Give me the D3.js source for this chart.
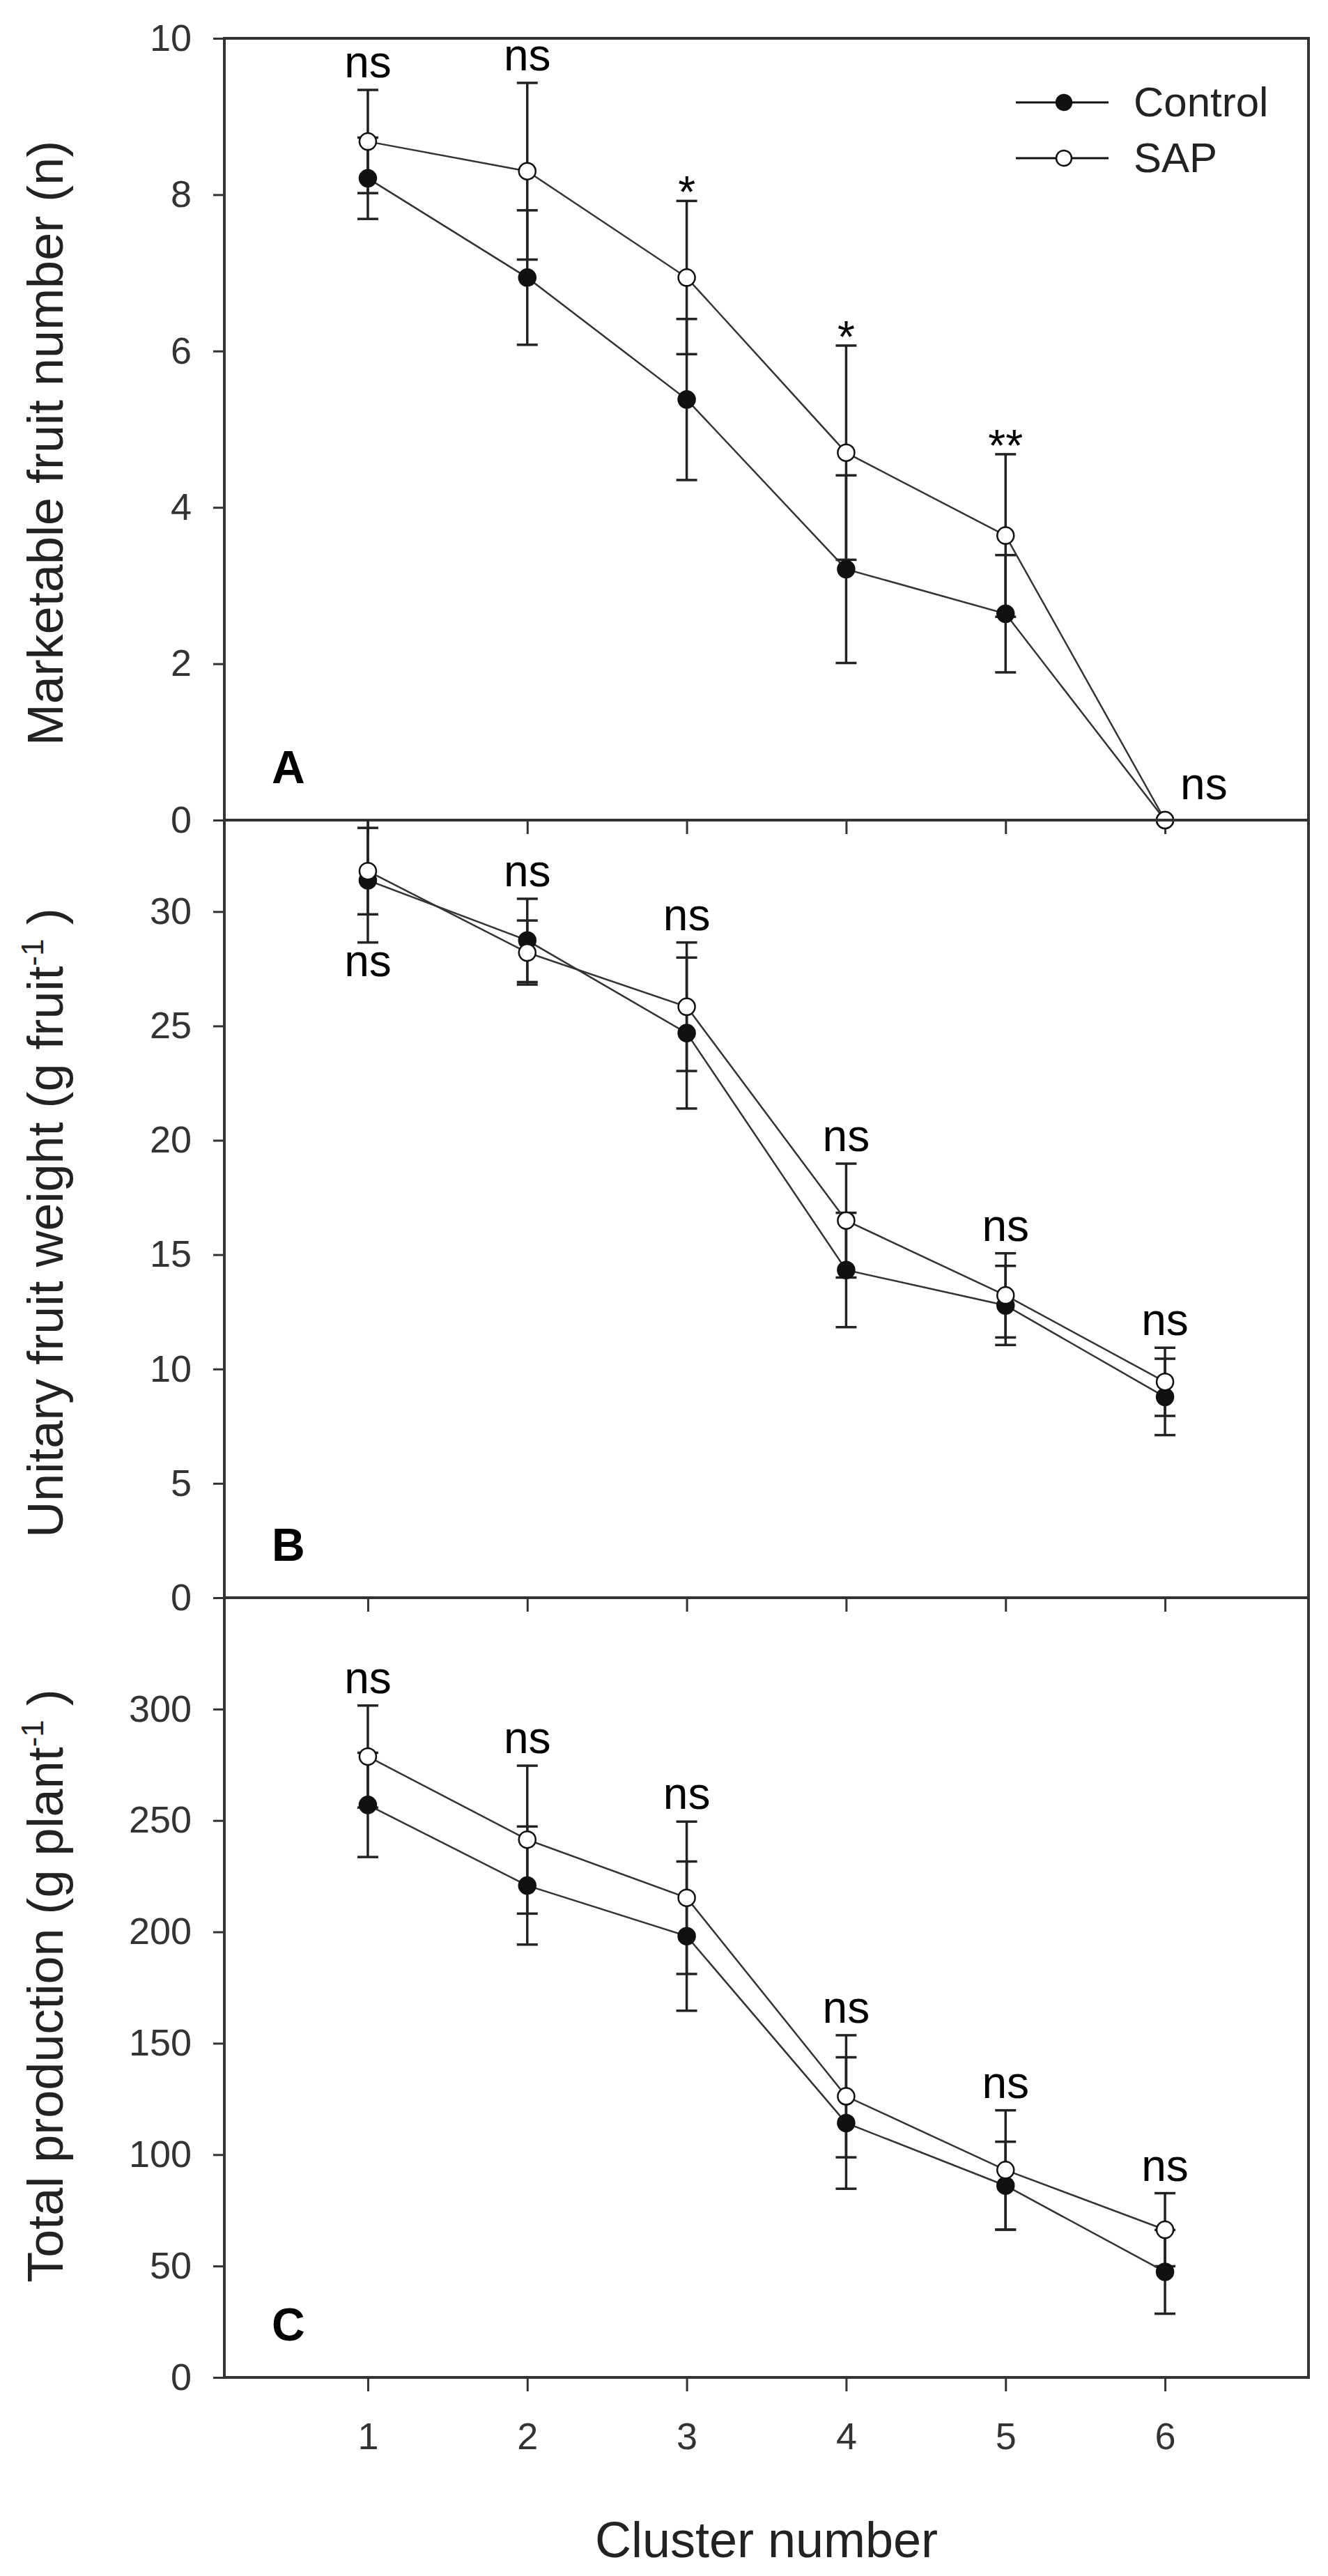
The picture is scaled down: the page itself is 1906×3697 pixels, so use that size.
<!DOCTYPE html>
<html>
<head>
<meta charset="utf-8">
<script src="https://cdn.jsdelivr.net/npm/d3@7/dist/d3.min.js"></script>
<style>
  html, body { margin: 0; padding: 0; background: #fff; }
  svg { display: block; }
  text { font-family: "Liberation Sans", Arial, sans-serif; }
</style>
</head>
<body>
<script>
// cluster numbers on the x axis
const clusters = [1, 2, 3, 4, 5, 6];

// A : marketable fruit number (n)
const controlA    = [8.21, 6.94, 5.38, 3.21, 2.64, 0];
const controlAErr = [0.52, 0.86, 1.03, 1.20, 0.75, 0];
const sapA        = [8.68, 8.30, 6.94, 4.70, 3.64, 0];
const sapAErr     = [0.66, 1.13, 0.98, 1.37, 1.04, 0];
const sigA        = ['ns', 'ns', '*', '*', '**', 'ns'];
const ticksA      = [0, 2, 4, 6, 8, 10];

// B : unitary fruit weight (g fruit-1)
const controlB    = [31.37, 28.74, 24.69, 14.33, 12.78, 8.78];
const controlBErr = [2.72, 1.82, 3.30, 2.50, 1.73, 1.67];
const sapB        = [31.77, 28.21, 25.84, 16.49, 13.22, 9.44];
const sapBErr     = [1.89, 1.40, 2.81, 2.49, 1.84, 1.49];
const sigB        = ['ns', 'ns', 'ns', 'ns', 'ns', 'ns'];
const ticksB      = [0, 5, 10, 15, 20, 25, 30];

// C : total production (g plant-1)
const controlC    = [257.0, 220.8, 198.1, 114.2, 86.1, 47.4];
const controlCErr = [23.4, 26.5, 33.5, 29.5, 19.7, 18.8];
const sapC        = [278.7, 241.4, 215.3, 126.2, 93.1, 66.3];
const sapCErr     = [22.9, 33.2, 34.2, 27.4, 26.8, 16.4];
const sigC        = ['ns', 'ns', 'ns', 'ns', 'ns', 'ns'];
const ticksC      = [0, 50, 100, 150, 200, 250, 300];

const seriesNames = ['Control', 'SAP'];

const W = 1906, H = 3697;
const left = 322, right = 1878;

const svg = d3.select('body').append('svg')
  .attr('width', W)
  .attr('height', H);

const x = d3.scaleLinear().domain([0.1, 6.9]).range([left, right]);

const panels = [
  {id: 'A', top: 55, bottom: 1177, max: 10, ticks: ticksA,
   ctl: controlA, ctlErr: controlAErr, sap: sapA, sapErr: sapAErr, sig: sigA,
   title: [{t: 'Marketable fruit number (n)'}], titleY: 636},
  {id: 'B', top: 1177, bottom: 2293, max: 34, ticks: ticksB,
   ctl: controlB, ctlErr: controlBErr, sap: sapB, sapErr: sapBErr, sig: sigB,
   title: [{t: 'Unitary fruit weight (g fruit'}, {t: '-1', sup: true}, {t: ' )'}], titleY: 1755},
  {id: 'C', top: 2293, bottom: 3412, max: 350, ticks: ticksC,
   ctl: controlC, ctlErr: controlCErr, sap: sapC, sapErr: sapCErr, sig: sigC,
   title: [{t: 'Total production (g plant'}, {t: '-1', sup: true}, {t: ' )'}], titleY: 2850}
];

const ink = '#222';

panels.forEach((p, pi) => {
  const y = d3.scaleLinear().domain([0, p.max]).range([p.bottom, p.top]);
  const g = svg.append('g');

  // clip for error bars that poke past the frame
  svg.append('clipPath').attr('id', 'clip' + p.id)
    .append('rect')
    .attr('x', left).attr('y', p.top)
    .attr('width', right - left).attr('height', p.bottom - p.top);

  // y axis
  const ya = g.append('g')
    .attr('transform', `translate(${left},0)`)
    .call(d3.axisLeft(y).tickValues(p.ticks).tickSize(16).tickSizeOuter(0).tickPadding(31));
  ya.select('.domain').remove();
  ya.selectAll('line').attr('stroke', '#333').attr('stroke-width', 3);
  ya.selectAll('text').attr('font-size', 54).attr('fill', '#333')
    .attr('font-family', '"Liberation Sans", Arial, sans-serif');

  // x axis (labels only on the bottom panel)
  const xa = g.append('g')
    .attr('transform', `translate(0,${p.bottom})`)
    .call(d3.axisBottom(x).tickValues(clusters).tickSize(20).tickSizeOuter(0).tickPadding(45)
      .tickFormat(pi === 2 ? d3.format('d') : ''));
  xa.select('.domain').remove();
  xa.selectAll('line').attr('stroke', '#333').attr('stroke-width', 3);
  xa.selectAll('text').attr('font-size', 54).attr('fill', '#333')
    .attr('font-family', '"Liberation Sans", Arial, sans-serif');

  // frame
  g.append('rect')
    .attr('x', left).attr('y', p.top)
    .attr('width', right - left).attr('height', p.bottom - p.top)
    .attr('fill', 'none').attr('stroke', '#333').attr('stroke-width', 4);

  const series = [
    {vals: p.ctl, err: p.ctlErr, fill: '#111'},
    {vals: p.sap, err: p.sapErr, fill: '#fff'}
  ];

  // error bars
  const eb = g.append('g').attr('clip-path', `url(#clip${p.id})`);
  series.forEach(s => {
    const bars = eb.selectAll(null).data(clusters.map((c, i) => ({c, v: s.vals[i], e: s.err[i]})))
      .enter().filter(d => d.e > 0);
    bars.append('line')
      .attr('x1', d => x(d.c)).attr('x2', d => x(d.c))
      .attr('y1', d => y(d.v - d.e)).attr('y2', d => y(d.v + d.e))
      .attr('stroke', ink).attr('stroke-width', 3.5);
    [-1, 1].forEach(sg => {
      bars.append('line')
        .attr('x1', d => x(d.c) - 15).attr('x2', d => x(d.c) + 15)
        .attr('y1', d => y(d.v + sg * d.e)).attr('y2', d => y(d.v + sg * d.e))
        .attr('stroke', ink).attr('stroke-width', 3.5);
    });
  });

  // connecting lines
  const line = d3.line().x((d, i) => x(clusters[i])).y(d => y(d));
  series.forEach(s => {
    g.append('path').datum(s.vals)
      .attr('d', line)
      .attr('fill', 'none').attr('stroke', '#333').attr('stroke-width', 2.5);
  });

  // markers
  series.forEach(s => {
    g.selectAll(null).data(s.vals).enter().append('circle')
      .attr('cx', (d, i) => x(clusters[i]))
      .attr('cy', d => y(d))
      .attr('r', 12)
      .attr('fill', s.fill).attr('stroke', '#111').attr('stroke-width', 2.5);
  });

  // significance labels
  p.sig.forEach((lab, i) => {
    const topCap = Math.min(y(p.ctl[i] + p.ctlErr[i]), y(p.sap[i] + p.sapErr[i]));
    const lowCap = Math.max(y(p.ctl[i] - p.ctlErr[i]), y(p.sap[i] - p.sapErr[i]));
    let tx = x(clusters[i]), ty, anchor = 'middle';
    if (p.id === 'B' && i === 0) {
      ty = lowCap + 48;                 // written under the bar
    } else if (p.id === 'A' && i === 5) {
      tx += 22; ty = y(0) - 30; anchor = 'start';   // beside the zero point
    } else if (lab.startsWith('*')) {
      ty = topCap + 10;
    } else {
      ty = topCap - 18;
    }
    g.append('text')
      .attr('x', tx).attr('y', ty)
      .attr('text-anchor', anchor)
      .attr('font-size', 64).attr('fill', '#000')
      .text(lab);
  });

  // panel letter
  g.append('text')
    .attr('x', 390).attr('y', p.bottom - 53)
    .attr('font-size', 66).attr('font-weight', 'bold').attr('fill', '#000')
    .text(p.id);

  // y title
  const tt = svg.append('text')
    .attr('transform', `translate(90,${p.titleY}) rotate(-90)`)
    .attr('text-anchor', 'middle')
    .attr('font-size', 72).attr('fill', ink);
  p.title.forEach((part, k) => {
    const sp = tt.append('tspan').text(part.t);
    if (part.sup) sp.attr('font-size', 44).attr('dy', -28);
    else if (k > 0 && p.title[k - 1].sup) sp.attr('dy', 28);
  });
});

// legend (top right of panel A)
const legY = [147, 227];
const legFill = ['#111', '#fff'];
const leg = svg.append('g');
seriesNames.forEach((name, i) => {
  leg.append('line')
    .attr('x1', 1458).attr('x2', 1591)
    .attr('y1', legY[i]).attr('y2', legY[i])
    .attr('stroke', '#111').attr('stroke-width', 3);
  leg.append('circle')
    .attr('cx', 1527).attr('cy', legY[i]).attr('r', 11)
    .attr('fill', legFill[i]).attr('stroke', '#111').attr('stroke-width', 2.5);
  leg.append('text')
    .attr('x', 1627).attr('y', legY[i] + 20)
    .attr('font-size', 60).attr('fill', ink)
    .text(name);
});

// x title
svg.append('text')
  .attr('x', (left + right) / 2).attr('y', 3670)
  .attr('text-anchor', 'middle')
  .attr('font-size', 72).attr('fill', ink)
  .text('Cluster number');
</script>
</body>
</html>
